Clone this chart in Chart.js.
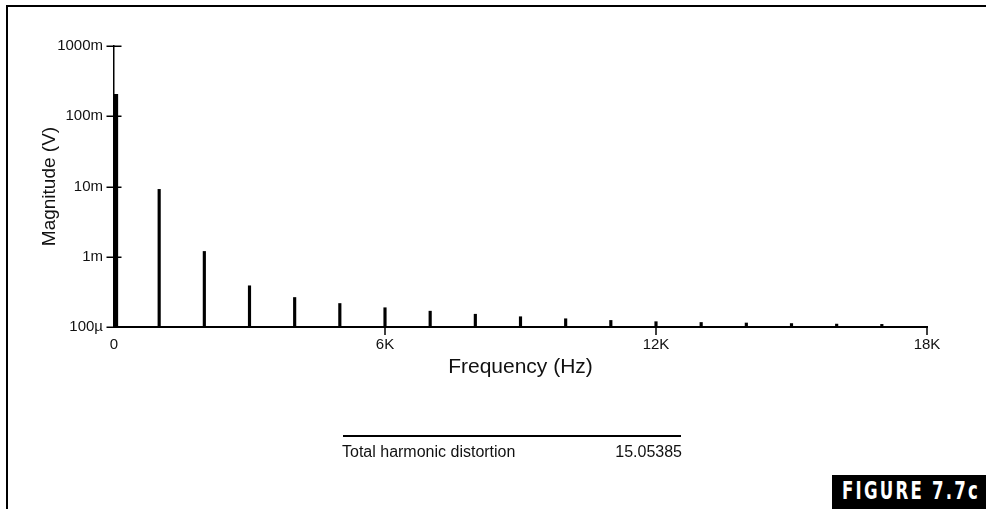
<!DOCTYPE html>
<html>
<head>
<meta charset="utf-8">
<script src="https://cdn.jsdelivr.net/npm/chart.js@4/dist/chart.umd.min.js"></script>
<style>
  html, body { margin: 0; padding: 0; background: #fff; }
  #wrap { position: relative; width: 986px; height: 509px; overflow: hidden; background: #fff; }
  #c { position: absolute; left: 0; top: 0; }
  #frame { position: absolute; left: 6px; top: 5px; width: 990px; height: 520px;
           border-top: 2px solid #000; border-left: 2px solid #000; }
  #thdLine { position: absolute; left: 343px; top: 435px; width: 338px; height: 1.5px; background: #000; }
  .thd { position: absolute; top: 444px; font-family: "Liberation Sans", Arial, Helvetica, sans-serif;
         font-size: 16px; line-height: 16px; color: #111; white-space: nowrap; }
  #thdLabel { left: 342px; }
  #thdValue { right: 304px; }
  #fig { position: absolute; left: 832px; top: 475px; width: 160px; height: 40px; background: #000; }
  #figText { position: absolute; left: 842px; top: 477px; color: #fff; white-space: nowrap;
             font-family: "DejaVu Sans Condensed", "DejaVu Sans", sans-serif; font-weight: bold;
             font-size: 25px; line-height: 28px; letter-spacing: 3px; transform-origin: 0 0; }
</style>
</head>
<body>
<div id="wrap">
  <div id="frame"></div>
  <canvas id="c" width="986" height="509"></canvas>
  <div id="thdLine"></div>
  <div class="thd" id="thdLabel">Total harmonic distortion</div>
  <div class="thd" id="thdValue">15.05385</div>
  <div id="fig"></div>
  <div id="figText">FIGURE 7.7c</div>
</div>
<script>
// ---- data ----
const fundamentalFreq = [40];
const fundamentalMag = [0.205];
const harmonicFreq = [1000, 2000, 3000, 4000, 5000, 6000, 7000, 8000, 9000,
                      10000, 11000, 12000, 13000, 14000, 15000, 16000, 17000];
const harmonicMag = [9.1e-3, 1.19e-3, 3.86e-4, 2.63e-4, 2.16e-4, 1.88e-4, 1.68e-4, 1.52e-4, 1.40e-4,
                     1.31e-4, 1.24e-4, 1.19e-4, 1.16e-4, 1.14e-4, 1.12e-4, 1.10e-4, 1.09e-4];
const xTickValues = [0, 6000, 12000, 18000];
const xTickLabels = ['0', '6K', '12K', '18K'];
const yTickValues = [1e-4, 1e-3, 1e-2, 1e-1, 1];
const yTickLabels = ['100\u00b5', '1m', '10m', '100m', '1000m'];

const FONT = '"Liberation Sans", Arial, Helvetica, sans-serif';

// fit the figure label into its box width
(function () {
  const el = document.getElementById('figText');
  const w = el.getBoundingClientRect().width;
  el.style.transform = 'scaleX(' + (138 / w) + ')';
})();

const toPoints = (xs, ys) => xs.map((x, i) => ({ x: x, y: ys[i] }));

const crossTicks = {
  id: 'crossTicks',
  afterDraw(chart) {
    const { ctx, chartArea } = chart;
    const xs = chart.scales.x, ys = chart.scales.y;
    ctx.save();
    ctx.strokeStyle = '#000';
    ctx.lineWidth = 1.5;
    yTickValues.forEach(v => {
      const y = Math.round(ys.getPixelForValue(v)) + 0.25;
      ctx.beginPath();
      ctx.moveTo(chartArea.left - 7.5, y);
      ctx.lineTo(chartArea.left + 7.5, y);
      ctx.stroke();
    });
    xTickValues.forEach(v => {
      if (v === 0) return;
      const x = xs.getPixelForValue(v);
      ctx.beginPath();
      ctx.moveTo(x, chartArea.bottom - (v === xTickValues[xTickValues.length - 1] ? 1 : 5));
      ctx.lineTo(x, chartArea.bottom + 8);
      ctx.stroke();
    });
    ctx.restore();
  }
};

new Chart(document.getElementById('c'), {
  type: 'bar',
  data: {
    datasets: [
      { data: toPoints(fundamentalFreq, fundamentalMag), backgroundColor: '#000', barThickness: 4,
        base: yTickValues[0], grouped: false },
      { data: toPoints(harmonicFreq, harmonicMag), backgroundColor: '#000', barThickness: 2.5,
        base: yTickValues[0], grouped: false }
    ]
  },
  options: {
    responsive: false,
    animation: false,
    devicePixelRatio: 1,
    layout: { padding: { left: 0, right: 59, top: 46, bottom: 0 } },
    plugins: { legend: { display: false }, tooltip: { enabled: false } },
    scales: {
      x: {
        type: 'linear', min: 0, max: 18000, offset: false,
        afterBuildTicks: s => { s.ticks = xTickValues.map(v => ({ value: v })); },
        afterFit: s => { s.height = 182; },
        grid: { display: false, drawTicks: false },
        border: { display: true, color: '#000', width: 2 },
        ticks: {
          padding: 9, color: '#111', font: { family: FONT, size: 15 }, maxRotation: 0,
          callback: (v) => { const i = xTickValues.indexOf(v); return i >= 0 ? xTickLabels[i] : ''; }
        },
        title: { display: true, text: 'Frequency (Hz)', color: '#111',
                 font: { family: FONT, size: 21 }, padding: { top: 0, bottom: 129 } }
      },
      y: {
        type: 'logarithmic', min: 1e-4, max: 1,
        afterBuildTicks: s => { s.ticks = yTickValues.map(v => ({ value: v })); },
        afterFit: s => { s.width = 114; },
        grid: { display: false, drawTicks: false },
        border: { display: true, color: '#000', width: 1.5 },
        ticks: {
          padding: 11, color: '#111', font: { family: FONT, size: 15 },
          callback: (v) => { const i = yTickValues.findIndex(t => Math.abs(t - v) / t < 1e-6); return i >= 0 ? yTickLabels[i] : ''; }
        },
        title: { display: true, text: 'Magnitude (V)', color: '#111',
                 font: { family: FONT, size: 19 }, padding: { top: 38, bottom: 0 } }
      }
    }
  },
  plugins: [crossTicks]
});
</script>
</body>
</html>
